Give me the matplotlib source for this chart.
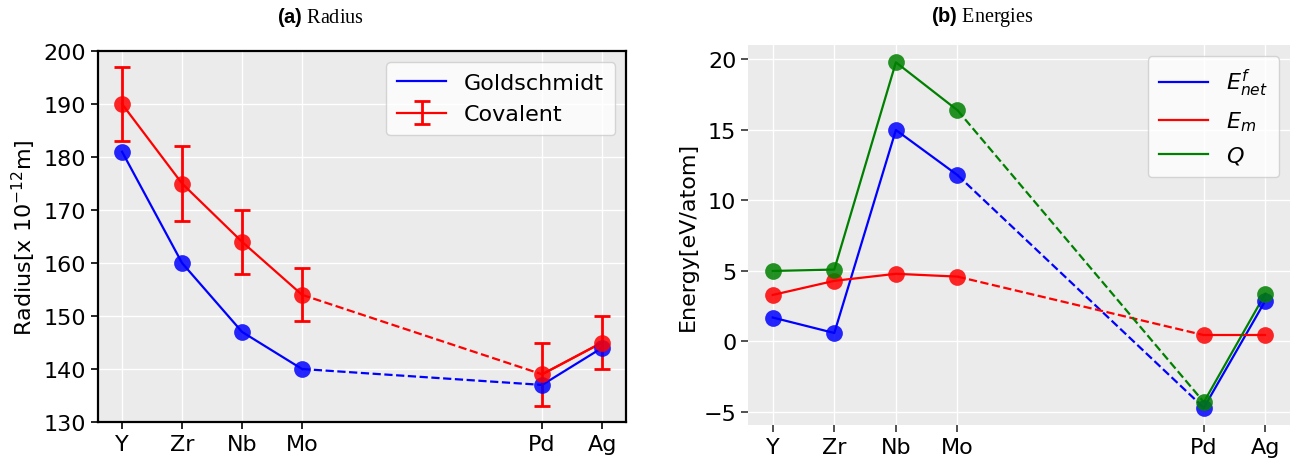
import matplotlib
matplotlib.use("Agg")
import matplotlib.pyplot as plt
import numpy as np

elements = ["Y", "Zr", "Nb", "Mo", "Pd", "Ag"]
atomic_no = [39, 40, 41, 42, 46, 47]

# (a) radii, in 1e-12 m
goldschmidt = [181, 160, 147, 140, 137, 144]
covalent = [190, 175, 164, 154, 139, 145]
covalent_err = [7, 7, 6, 5, 6, 5]

# (b) energies, eV/atom
e_net = [1.7, 0.6, 15.0, 11.8, -4.7, 2.9]
e_m = [3.3, 4.3, 4.8, 4.6, 0.45, 0.45]
q_val = [5.0, 5.1, 19.8, 16.4, -4.3, 3.4]

plt.rcParams['mathtext.fontset'] = 'custom'
plt.rcParams['mathtext.bf'] = 'Liberation Sans:bold'
plt.rcParams['mathtext.rm'] = 'Liberation Serif'
plt.rcParams['mathtext.it'] = 'DejaVu Sans:italic'

BG = '#EBEBEB'
FS = 16


def draw_series(ax, x, y, color, label, yerr=None):
    x = np.asarray(x)
    y = np.asarray(y)
    # solid up to Mo, dashed across the gap, solid Pd-Ag
    if yerr is None:
        ax.plot(x[:4], y[:4], '-', color=color, lw=1.6, label=label)
    else:
        yerr = np.asarray(yerr)
        ax.errorbar(x[:4], y[:4], yerr=yerr[:4], color=color, lw=1.6,
                    elinewidth=2, capsize=6, capthick=2, label=label)
        ax.errorbar(x[4:], y[4:], yerr=yerr[4:], color=color, lw=1.6,
                    elinewidth=2, capsize=6, capthick=2)
    ax.plot(x[3:5], y[3:5], '--', color=color, lw=1.6)
    ax.plot(x[4:], y[4:], '-', color=color, lw=1.6)
    ax.scatter(x, y, s=145, color=color, alpha=0.85, zorder=3, lw=0)


fig = plt.figure(figsize=(12.92, 4.6), dpi=100)

# ---- (a) Radius
ax1 = fig.add_axes([0.0759, 0.0804, 0.4087, 0.8065])
ax1.set_facecolor(BG)
ax1.set_axisbelow(True)
ax1.grid(True, color='white', lw=1)
draw_series(ax1, atomic_no, goldschmidt, 'blue', 'Goldschmidt')
draw_series(ax1, atomic_no, covalent, 'red', 'Covalent', yerr=covalent_err)
ax1.set_ylim(130, 200)
ax1.set_xticks(atomic_no)
ax1.set_xticklabels(elements)
ax1.tick_params(labelsize=FS, direction='out', length=5, width=1.2, color='black')
for s in ax1.spines.values():
    s.set_color('black')
    s.set_linewidth(1.6)
ax1.set_ylabel(r'Radius[x $10^{-12}$m]', fontsize=FS, family='DejaVu Sans')
ax1.yaxis.label.set_math_fontfamily('dejavusans')
ax1.legend(loc='upper right', fontsize=FS, facecolor='white', framealpha=0.8,
           edgecolor='#CCCCCC', handlelength=2.2, borderpad=0.5)

# ---- (b) Energies
ax2 = fig.add_axes([0.579, 0.0739, 0.4195, 0.826])
ax2.set_facecolor(BG)
ax2.set_axisbelow(True)
ax2.grid(True, color='white', lw=1)
draw_series(ax2, atomic_no, e_net, 'blue', r'$E^f_{net}$')
draw_series(ax2, atomic_no, e_m, 'red', r'$E_m$')
draw_series(ax2, atomic_no, q_val, 'green', r'$Q$')
ax2.set_xticks(atomic_no)
ax2.set_xticklabels(elements)
ax2.set_yticks([-5, 0, 5, 10, 15, 20])
ax2.tick_params(labelsize=FS, direction='out', length=5, width=1.2, color='#333333')
for s in ax2.spines.values():
    s.set_visible(False)
ax2.set_ylabel('Energy[eV/atom]', fontsize=FS)
ax2.legend(loc='upper right', fontsize=FS, facecolor='white', framealpha=0.8,
           edgecolor='#CCCCCC', handlelength=2.2, borderpad=0.5)

# sub-figure captions
fig.text(0.2477, 0.962, r'$\mathbf{(a)}$ Radius', family='Liberation Serif',
         fontsize=14.5, ha='center', va='center')
fig.text(0.760, 0.962, r'$\mathbf{(b)}$ Energies', family='Liberation Serif',
         fontsize=14.5, ha='center', va='center')

fig.savefig('out.png', dpi=100)
